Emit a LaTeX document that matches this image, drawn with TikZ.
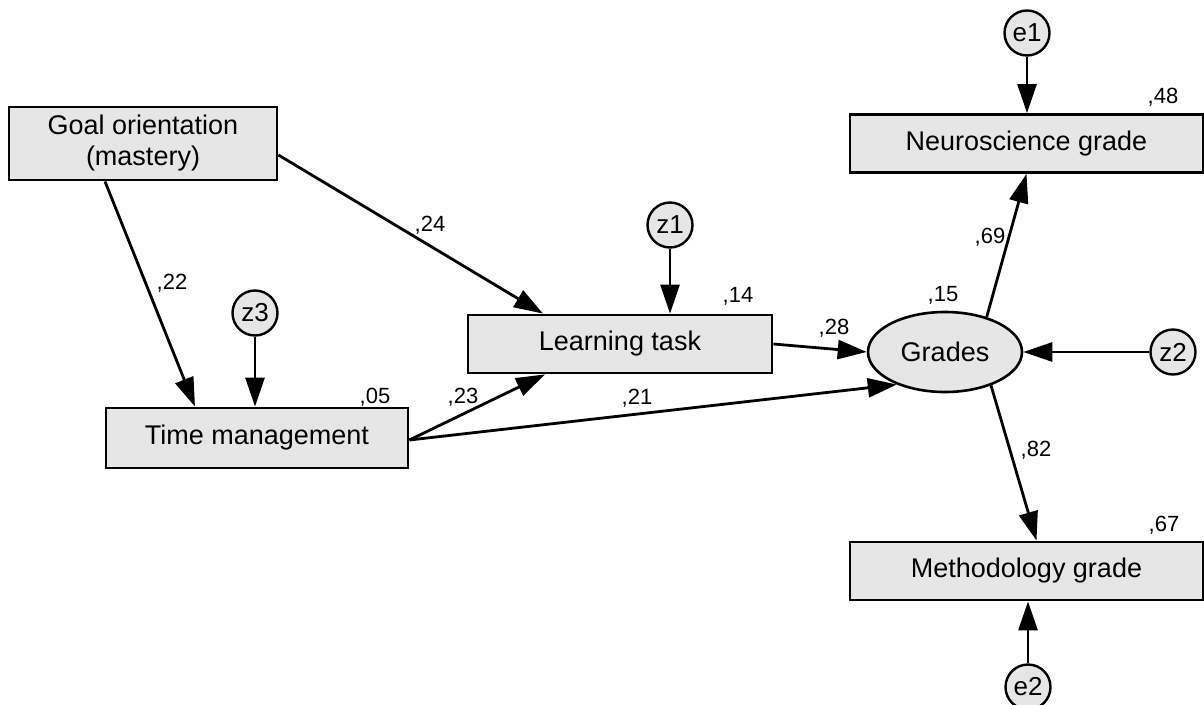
\documentclass[tikz,border=0pt]{standalone}
\usepackage{fontspec}
\setmainfont{Liberation Sans}
\usetikzlibrary{shapes.geometric,arrows.meta}
\definecolor{boxgray}{RGB}{230,230,230}
\tikzset{
  obs/.style={draw=black, line width=2.8pt, fill=boxgray, rectangle, inner sep=0pt,
    font=\fontsize{27}{31}\selectfont, align=center},
  lat/.style={draw=black, line width=2.6pt, fill=boxgray, ellipse, inner sep=0pt,
    minimum width=154pt, minimum height=80pt, font=\fontsize{27}{31}\selectfont},
  err/.style={draw=black, line width=2.4pt, fill=boxgray, circle, inner sep=0pt,
    minimum size=45pt, font=\fontsize{26}{30}\selectfont},
  path/.style={line width=2.8pt, -{Triangle[length=29pt,width=19pt]}},
  coef/.style={font=\fontsize{22}{26}\selectfont, inner sep=0pt}
}
\begin{document}
\begin{tikzpicture}[x=1pt,y=-1pt]
\useasboundingbox (0,0) rectangle (1204,704);
% observed boxes
\node[obs, minimum width=268pt, minimum height=73pt] (goal) at (143,143.5) {Goal orientation\\(mastery)};
\node[obs, minimum width=302pt, minimum height=60pt] (time) at (257,438) {Time management};
\node[obs, minimum width=304pt, minimum height=58pt] (learn) at (620,344) {Learning task};
\node[obs, minimum width=353pt, minimum height=58pt] (neuro) at (1026.5,143.5) {Neuroscience grade};
\node[obs, minimum width=353pt, minimum height=58pt] (meth) at (1026.5,571) {Methodology grade};
% latent
\node[lat] (grades) at (945,352) {Grades};
% errors
\node[err] (z3) at (255,313) {z3};
\node[err] (z1) at (670,225) {z1};
\node[err] (z2) at (1173,352) {z2};
\node[err] (e1) at (1027,33) {e1};
\node[err] (e2) at (1028,687) {e2};
% paths
\draw[path] ([xshift=-38pt]goal.south) -- ([xshift=-62pt]time.north);
\draw[path] (z3) -- (z3 |- time.north);
\draw[path] ([yshift=-11.5pt]goal.east) -- ([xshift=-77pt]learn.north);
\draw[path] (z1) -- (z1 |- learn.north);
\draw[path] ([yshift=-2pt]time.east) -- ([xshift=-75pt]learn.south);
\draw[path] ([yshift=-2pt]time.east) -- (grades.-146);
\draw[path] (learn.east) -- (grades.west);
\draw[path] (z2) -- (grades.east);
\draw[path] (grades.40) -- (neuro.south);
\draw[path] (e1) -- (e1 |- neuro.north);
\draw[path] (grades.-36) -- ([xshift=10pt]meth.north);
\draw[path] (e2) -- (e2 |- meth.south);
% coefficients
\node[coef] (c22) at (172,283) {,22};
\node[coef] (c24) at (430,225) {,24};
\node[coef] (c05) at (375,397) {,05};
\node[coef] (c23) at (463,397) {,23};
\node[coef] (c21) at (637,398) {,21};
\node[coef] (c14) at (738,296) {,14};
\node[coef] (c28) at (834,328) {,28};
\node[coef] (c15) at (943,295) {,15};
\node[coef] (c69) at (990,237) {,69};
\node[coef] (c48) at (1163,97) {,48};
\node[coef] (c82) at (1036,450) {,82};
\node[coef] (c67) at (1164,525) {,67};
\end{tikzpicture}
\end{document}
